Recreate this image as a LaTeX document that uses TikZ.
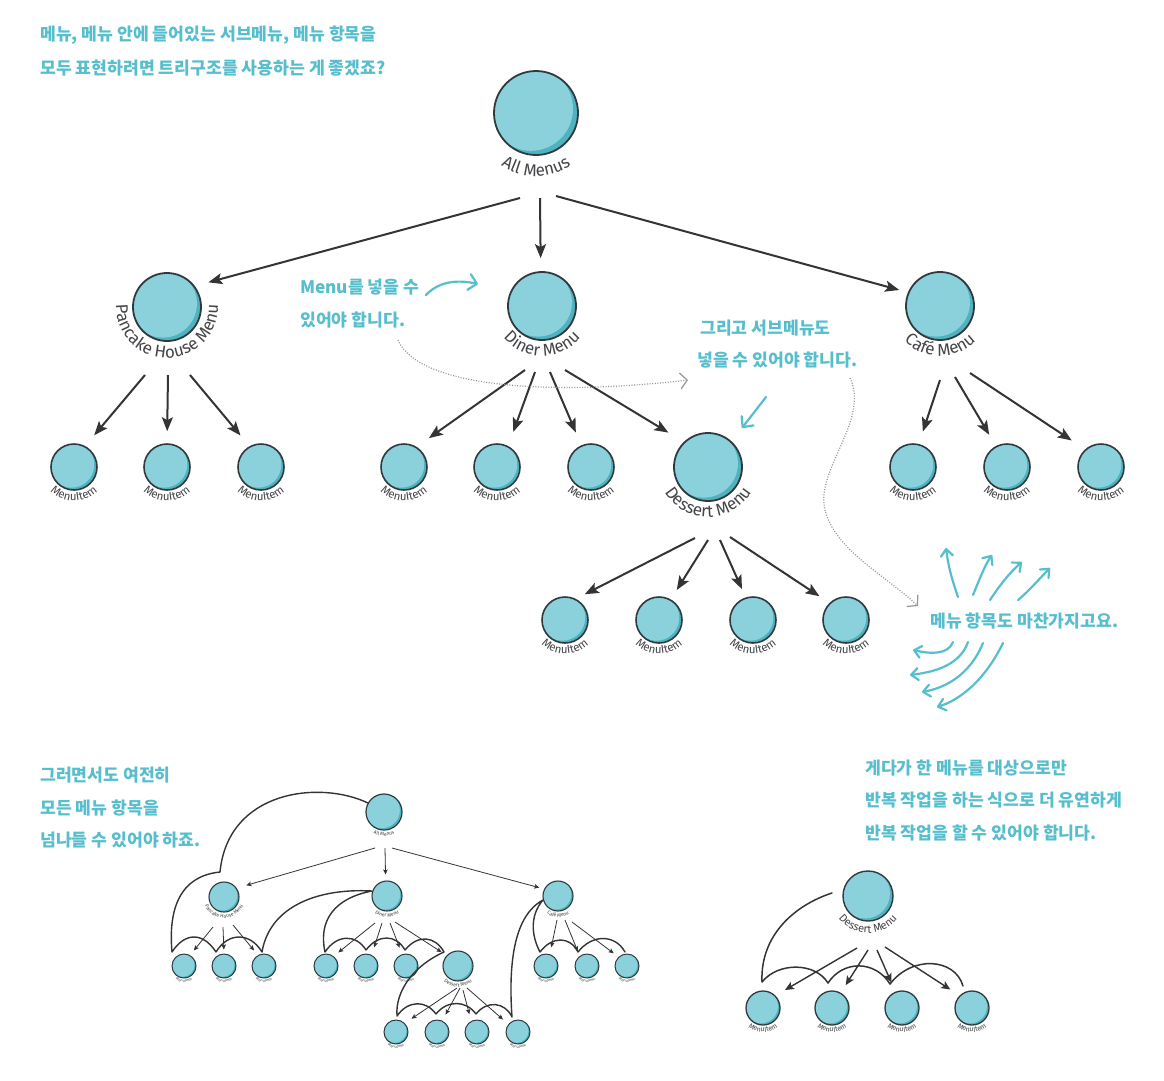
\documentclass[tikz,border=0pt]{standalone}
\usepackage{fontspec}
\setmainfont{Fira Sans}
\newfontfamily\kor{Noto Sans CJK KR}
\usetikzlibrary{arrows.meta,calc,decorations.text}
\definecolor{tealc}{RGB}{138,209,219}
\definecolor{tealdark}{RGB}{78,178,192}
\definecolor{outl}{RGB}{48,58,62}
\definecolor{arrc}{RGB}{52,52,54}
\definecolor{cyanc}{RGB}{86,190,205}
\definecolor{labc}{RGB}{70,70,74}
\definecolor{dotc}{RGB}{150,150,150}
\newcommand\fBig{\fontsize{17}{17}\selectfont}
\newcommand\fItem{\fontsize{11.5}{11.5}\selectfont}
\newcommand\fMid{\fontsize{11}{11}\selectfont}
\newcommand\fSm{\fontsize{7}{7}\selectfont}
\newcommand\fTiny{\fontsize{5}{5}\selectfont}
\newcommand\fMicro{\fontsize{3.8}{3.8}\selectfont}
\newcommand\arclab[6]{\path[decorate,decoration={text along path,text align=center,text color=labc,text={|#5|#6}}] ($(#1)+(#3:#2)$) arc[start angle=#3,end angle=#4,radius=#2];}
\tikzset{
  mn/.style 2 args={circle,minimum size=#1,inner sep=0pt,draw=outl,line width=#2,fill=tealdark,
    path picture={\fill[tealc] ([xshift=-0.06*#1,yshift=0.05*#1]path picture bounding box.center) circle[radius=0.5*#1];}},
  big/.style={mn={84pt}{1.8pt}},
  mid/.style={mn={68pt}{1.8pt}},
  item/.style={mn={46pt}{1.6pt}},
  sbig/.style={mn={36pt}{1.2pt}},
  smid/.style={mn={30pt}{1.1pt}},
  sitem/.style={mn={24pt}{1pt}},
  rbig/.style={mn={50pt}{1.4pt}},
  ritem/.style={mn={34pt}{1.3pt}},
  arr/.style={draw=arrc,line width=2pt,-{Stealth[length=14pt,width=11pt,inset=3pt]}},
  sarr/.style={draw=arrc,line width=0.8pt,-{Stealth[length=5pt,width=4.5pt,inset=1pt]}},
  rarr/.style={draw=arrc,line width=1.4pt,-{Stealth[length=9pt,width=8pt,inset=2pt]}},
  iter/.style={draw=arrc,line width=1.4pt,line cap=round,line join=round},
  note/.style={font=\kor\bfseries\fontsize{17.2}{17.2}\selectfont,text=cyanc,anchor=west,inner sep=0pt},
  dotline/.style={draw=dotc,line width=1.2pt,dash pattern=on 1pt off 1.6pt,-{Straight Barb[length=7pt,width=16pt,line width=1.2pt]}},
  cyarr/.style={draw=cyanc,line width=2.2pt,line cap=round,-{Straight Barb[length=7pt,width=12pt,round]}},
}
\begin{document}
\begin{tikzpicture}[x=1pt,y=1pt]
\fill[white] (0,0) rectangle (1164,-1080);
\useasboundingbox (0,0) rectangle (1164,-1080);

% ---------- notes ----------
\node[note] (t1) at (40,-35) {메뉴, 메뉴 안에 들어있는 서브메뉴, 메뉴 항목을};
\node[note] (t2) at (40,-68) {모두 표현하려면 트리구조를 사용하는 게 좋겠죠?};
\node[note] (t3) at (300,-287) {Menu를 넣을 수};
\node[note] (t4) at (300,-320) {있어야 합니다.};
\node[note] (t5) at (700,-328) {그리고 서브메뉴도};
\node[note] (t6) at (697,-360) {넣을 수 있어야 합니다.};
\node[note] (t7) at (930,-621) {메뉴 항목도 마찬가지고요.};
\node[note] (t8) at (865,-768) {게다가 한 메뉴를 대상으로만};
\node[note] (t9) at (865,-800) {반복 작업을 하는 식으로 더 유연하게};
\node[note] (t10) at (865,-833) {반복 작업을 할 수 있어야 합니다.};
\node[note] (t11) at (40,-775) {그러면서도 여전히};
\node[note] (t12) at (40,-808) {모든 메뉴 항목을};
\node[note] (t13) at (40,-840) {넘나들 수 있어야 하죠.};

% ---------- main tree ----------
\node[big] (all) at (536,-113) {};
\node[mid] (ph) at (167,-307) {};
\node[mid] (di) at (542,-306) {};
\node[mid] (ca) at (940,-306) {};
\node[item] (p1) at (74,-467) {};
\node[item] (p2) at (167,-467) {};
\node[item] (p3) at (261,-467) {};
\node[item] (d1) at (404,-467) {};
\node[item] (d2) at (497,-467) {};
\node[item] (d3) at (591,-467) {};
\node[mid] (de) at (708,-467) {};
\node[item] (c1) at (913,-467) {};
\node[item] (c2) at (1007,-467) {};
\node[item] (c3) at (1101,-467) {};
\node[item] (e1) at (565,-620) {};
\node[item] (e2) at (659,-620) {};
\node[item] (e3) at (753,-620) {};
\node[item] (e4) at (846,-620) {};

\arclab{all}{63pt}{200}{340}{\fBig}{All Menus}
\arclab{ph}{51pt}{150}{390}{\fBig}{Pancake House Menu}
\arclab{di}{50pt}{200}{340}{\fBig}{Diner Menu}
\arclab{ca}{50pt}{200}{340}{\fBig}{Café Menu}
\arclab{de}{50pt}{200}{340}{\fBig}{Dessert Menu}
\foreach \n in {p1,p2,p3,d1,d2,d3,c1,c2,c3,e1,e2,e3,e4}{\arclab{\n}{34pt}{200}{340}{\fItem}{MenuItem}}

\coordinate (allP1) at (520,-198);
\coordinate (allP2) at (540,-198);
\coordinate (allP3) at (556,-196);
\draw[arr,shorten >=14pt] (allP1) -- (ph.37);
\draw[arr,shorten >=13pt] (allP2) -- (di.92);
\draw[arr,shorten >=9pt] (allP3) -- (ca.157);

\coordinate (phP1) at (145,-375);
\coordinate (phP2) at (168,-375);
\coordinate (phP3) at (190,-375);
\draw[arr,shorten >=14pt] (phP1) -- (p1.62);
\draw[arr,shorten >=12pt] (phP2) -- (p2.90);
\draw[arr,shorten >=14pt] (phP3) -- (p3.119);

\coordinate (diP1) at (525,-370);
\coordinate (diP2) at (535,-372);
\coordinate (diP3) at (550,-372);
\coordinate (diP4) at (565,-370);
\draw[arr,shorten >=15pt] (diP1) -- (d1.58);
\draw[arr,shorten >=15pt] (diP2) -- (d2.62);
\draw[arr,shorten >=14pt] (diP3) -- (d3.114);
\draw[arr,shorten >=18pt] (diP4) -- (de.134);

\coordinate (deP1) at (695,-538);
\coordinate (deP2) at (708,-540);
\coordinate (deP3) at (720,-540);
\coordinate (deP4) at (730,-537);
\draw[arr,shorten >=10pt] (deP1) -- (e1.63);
\draw[arr,shorten >=11pt] (deP2) -- (e2.60);
\draw[arr,shorten >=9pt] (deP3) -- (e3.108);
\draw[arr,shorten >=12pt] (deP4) -- (e4.134);

\coordinate (caP1) at (940,-380);
\coordinate (caP2) at (955,-377);
\coordinate (caP3) at (970,-373);
\draw[arr,shorten >=13pt] (caP1) -- (c1.76);
\draw[arr,shorten >=13pt] (caP2) -- (c2.118);
\draw[arr,shorten >=16pt] (caP3) -- (c3.132);

% ---------- annotations ----------
\draw[dotline] (398,-340) .. controls (420,-390) and (560,-395) .. (688,-380);
\draw[dotline] (850,-378) .. controls (870,-420) and (815,-470) .. (825,-510) .. controls (835,-550) and (885,-575) .. (918,-606);
\draw[cyarr,-{Straight Barb[length=8pt,width=16pt,round]}] (426,-295) .. controls (440,-280) and (460,-280) .. (478,-284);
\draw[cyarr,-{Straight Barb[length=8pt,width=15pt,round]}] (766,-397) -- (742,-428);
\draw[cyarr] (958,-597) .. controls (952,-580) and (948,-565) .. (946,-548);
\draw[cyarr] (973,-595) .. controls (980,-578) and (985,-565) .. (992,-555);
\draw[cyarr] (990,-600) .. controls (1000,-585) and (1010,-572) .. (1022,-562);
\draw[cyarr] (1018,-600) .. controls (1030,-590) and (1040,-578) .. (1050,-568);
\draw[cyarr] (953,-642) .. controls (948,-655) and (930,-654) .. (913,-650);
\draw[cyarr] (968,-642) .. controls (960,-665) and (935,-672) .. (910,-675);
\draw[cyarr] (983,-643) .. controls (970,-675) and (945,-688) .. (922,-692);
\draw[cyarr] (1003,-643) .. controls (985,-680) and (960,-700) .. (937,-707);

% ---------- bottom-left small tree ----------
\node[sbig] (sa) at (384,-812) {};
\node[smid] (sp) at (224,-897) {};
\node[smid] (sd) at (387,-896) {};
\node[smid] (sc) at (558,-896) {};
\node[sitem] (sp1) at (184,-966) {};
\node[sitem] (sp2) at (224,-966) {};
\node[sitem] (sp3) at (264,-966) {};
\node[sitem] (sd1) at (326,-966) {};
\node[sitem] (sd2) at (366,-966) {};
\node[sitem] (sd3) at (406,-966) {};
\node[smid] (sdd) at (458,-966) {};
\node[sitem] (sc1) at (546,-966) {};
\node[sitem] (sc2) at (587,-966) {};
\node[sitem] (sc3) at (627,-966) {};
\node[sitem] (se1) at (396,-1032) {};
\node[sitem] (se2) at (437,-1032) {};
\node[sitem] (se3) at (477,-1032) {};
\node[sitem] (se4) at (518,-1032) {};

\arclab{sa}{24pt}{200}{340}{\fTiny}{All Menus}
\arclab{sp}{21pt}{150}{390}{\fTiny}{Pancake House Menu}
\arclab{sd}{21pt}{200}{340}{\fTiny}{Diner Menu}
\arclab{sc}{21pt}{200}{340}{\fTiny}{Café Menu}
\arclab{sdd}{21pt}{190}{350}{\fTiny}{Dessert Menu}
\foreach \n in {sp1,sp2,sp3,sd1,sd2,sd3,sc1,sc2,sc3,se1,se2,se3,se4}{\arclab{\n}{16pt}{200}{340}{\fMicro}{MenuItem}}

\coordinate (saP1) at (375,-848);
\coordinate (saP2) at (385,-848);
\coordinate (saP3) at (392,-848);
\draw[sarr,shorten >=10pt] (saP1) -- (sp.35);
\draw[sarr,shorten >=6pt] (saP2) -- (sd.95);
\draw[sarr,shorten >=5pt] (saP3) -- (sc.153);
\coordinate (spP1) at (213,-927);
\coordinate (spP2) at (223,-927);
\coordinate (spP3) at (233,-925);
\draw[sarr,shorten >=6pt] (spP1) -- (sp1.61);
\draw[sarr,shorten >=4pt] (spP2) -- (sp2.90);
\draw[sarr,shorten >=6pt] (spP3) -- (sp3.119);
\coordinate (sdP1) at (375,-923);
\coordinate (sdP2) at (382,-923);
\coordinate (sdP3) at (390,-923);
\coordinate (sdP4) at (395,-922);
\draw[sarr,shorten >=6pt] (sdP1) -- (sd1.52);
\draw[sarr,shorten >=8pt] (sdP2) -- (sd2.63);
\draw[sarr,shorten >=7pt] (sdP3) -- (sd3.108);
\draw[sarr,shorten >=6pt] (sdP4) -- (sdd.137);
\coordinate (scP1) at (557,-920);
\coordinate (scP2) at (565,-920);
\coordinate (scP3) at (572,-922);
\draw[sarr,shorten >=7pt] (scP1) -- (sc1.72);
\draw[sarr,shorten >=5pt] (scP2) -- (sc2.126);
\draw[sarr,shorten >=6pt] (scP3) -- (sc3.133);
\coordinate (seP1) at (457,-988);
\coordinate (seP2) at (460,-988);
\coordinate (seP3) at (463,-990);
\coordinate (seP4) at (467,-988);
\draw[sarr,shorten >=8pt] (seP1) -- (se1.45);
\draw[sarr,shorten >=7pt] (seP2) -- (se2.65);
\draw[sarr,shorten >=7pt] (seP3) -- (se3.118);
\draw[sarr,shorten >=7pt] (seP4) -- (se4.141);

\draw[iter] (368,-803) .. controls (320,-780) and (228,-790) .. (220,-872)
  .. controls (200,-874) and (166,-885) .. (172,-952)
  .. controls (185,-932) and (203,-932) .. (216,-952)
  .. controls (228,-932) and (250,-932) .. (262,-952)
  .. controls (270,-905) and (320,-888) .. (372,-891)
  .. controls (335,-898) and (318,-920) .. (325,-952)
  .. controls (337,-934) and (356,-934) .. (366,-950)
  .. controls (378,-934) and (396,-934) .. (405,-950)
  .. controls (418,-934) and (435,-936) .. (444,-952)
  .. controls (415,-965) and (395,-990) .. (397,-1016)
  .. controls (408,-1000) and (426,-1000) .. (436,-1014)
  .. controls (447,-1000) and (466,-1000) .. (476,-1014)
  .. controls (487,-1000) and (505,-1002) .. (512,-1017)
  .. controls (508,-960) and (515,-915) .. (543,-900)
  .. controls (530,-915) and (531,-935) .. (540,-952)
  .. controls (552,-936) and (570,-936) .. (578,-952)
  .. controls (592,-934) and (615,-934) .. (625,-952);

% ---------- bottom-right small tree ----------
\node[rbig] (rde) at (868,-896) {};
\node[ritem] (r1) at (763,-1008) {};
\node[ritem] (r2) at (832,-1008) {};
\node[ritem] (r3) at (902,-1008) {};
\node[ritem] (r4) at (972,-1008) {};
\arclab{rde}{37pt}{200}{340}{\fMid}{Dessert Menu}
\foreach \n in {r1,r2,r3,r4}{\arclab{\n}{24pt}{200}{340}{\fSm}{MenuItem}}
\coordinate (rP1) at (857,-948);
\coordinate (rP2) at (868,-950);
\coordinate (rP3) at (877,-950);
\coordinate (rP4) at (885,-947);
\draw[rarr,shorten >=11pt] (rP1) -- (r1.45);
\draw[rarr,shorten >=9pt] (rP2) -- (r2.60);
\draw[rarr,shorten >=10pt] (rP3) -- (r3.112);
\draw[rarr,shorten >=11pt] (rP4) -- (r4.135);
\draw[iter,line width=1.5pt] (832,-893) .. controls (795,-905) and (760,-935) .. (762,-982)
  .. controls (778,-962) and (815,-962) .. (828,-983)
  .. controls (843,-960) and (875,-960) .. (890,-984)
  .. controls (912,-955) and (955,-958) .. (963,-986);
\end{tikzpicture}
\end{document}
